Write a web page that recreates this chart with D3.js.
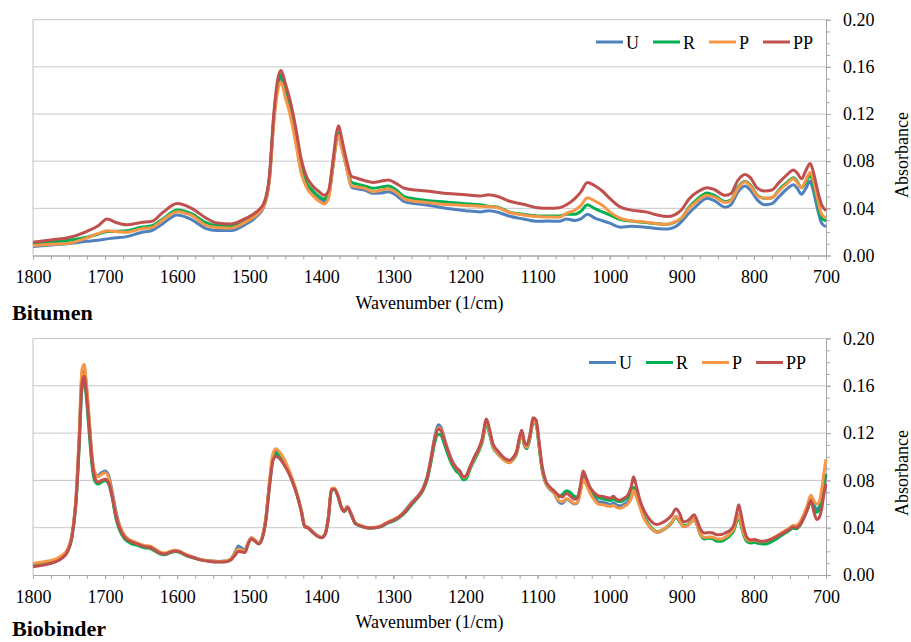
<!DOCTYPE html>
<html>
<head>
<meta charset="utf-8">
<script src="https://cdn.jsdelivr.net/npm/d3@7"></script>
<style>
	body { margin: 0; background: #fff; }
	svg text { font-family: "Liberation Serif", "Times New Roman", serif; fill: #000; }
</style>
</head>
<body>
<svg id="chart" width="911" height="642"></svg>
<script>
const seriesNames = ['U', 'R', 'P', 'PP'];
const seriesColors = ['#4f81bd', '#00b050', '#f79646', '#c0504d'];
const xMajorTicks = [1800, 1700, 1600, 1500, 1400, 1300, 1200, 1100, 1000, 900, 800, 700];
const yMajorTicks = [0, 0.04, 0.08, 0.12, 0.16, 0.20];

// Bitumen spectra
const bitumenWave = [1800, 1775, 1750, 1725, 1710, 1697, 1685, 1670, 1650, 1635, 1620, 1600, 1580, 1560, 1545, 1525, 1505, 1490, 1480, 1472, 1466, 1460, 1456, 1450, 1444, 1436, 1428, 1420, 1412, 1404, 1396, 1390, 1384, 1379, 1376, 1372, 1366, 1358, 1350, 1340, 1328, 1318, 1307, 1296, 1285, 1270, 1250, 1225, 1200, 1180, 1168, 1155, 1140, 1120, 1100, 1085, 1070, 1060, 1048, 1040, 1031, 1020, 1010, 1000, 985, 970, 950, 935, 920, 910, 900, 890, 878, 865, 855, 840, 832, 822, 812, 805, 795, 785, 775, 765, 755, 745, 740, 734, 728, 722, 718, 712, 706, 700];
const bitumenU = [0.0076, 0.0089, 0.0102, 0.0120, 0.0130, 0.0141, 0.0150, 0.0160, 0.0195, 0.0212, 0.0270, 0.0344, 0.0305, 0.0228, 0.0212, 0.0212, 0.0265, 0.0330, 0.0410, 0.0650, 0.115, 0.145, 0.151, 0.138, 0.125, 0.100, 0.072, 0.058, 0.052, 0.048, 0.0457, 0.050, 0.075, 0.097, 0.102, 0.092, 0.077, 0.058, 0.0565, 0.0555, 0.0527, 0.053, 0.054, 0.051, 0.0457, 0.0440, 0.0425, 0.0398, 0.0380, 0.0370, 0.0380, 0.0367, 0.0335, 0.0310, 0.0290, 0.0292, 0.0290, 0.0310, 0.0296, 0.0310, 0.0350, 0.0315, 0.0295, 0.0274, 0.0240, 0.0248, 0.0240, 0.0230, 0.0225, 0.0240, 0.0290, 0.0360, 0.0430, 0.0485, 0.0465, 0.0410, 0.0430, 0.0540, 0.0590, 0.0555, 0.0470, 0.0430, 0.0440, 0.0500, 0.0560, 0.0600, 0.0570, 0.0520, 0.0570, 0.0630, 0.0560, 0.0400, 0.0274, 0.0245];
const bitumenR = [0.0096, 0.0113, 0.0130, 0.0155, 0.0180, 0.0203, 0.0205, 0.0210, 0.0240, 0.0252, 0.0310, 0.0386, 0.0355, 0.0278, 0.0254, 0.0250, 0.0295, 0.0355, 0.0420, 0.0660, 0.117, 0.147, 0.153, 0.140, 0.127, 0.103, 0.075, 0.061, 0.055, 0.0505, 0.0480, 0.052, 0.077, 0.099, 0.104, 0.094, 0.079, 0.062, 0.0605, 0.0590, 0.0570, 0.0580, 0.0590, 0.0555, 0.0500, 0.0480, 0.0465, 0.0452, 0.0440, 0.0430, 0.0418, 0.0410, 0.0370, 0.0350, 0.0335, 0.0335, 0.0336, 0.0350, 0.0350, 0.0375, 0.0430, 0.0395, 0.0370, 0.0344, 0.0305, 0.0292, 0.0280, 0.0270, 0.0265, 0.0280, 0.0320, 0.0410, 0.0480, 0.0530, 0.0510, 0.0457, 0.0470, 0.0580, 0.0630, 0.0600, 0.0510, 0.0485, 0.0490, 0.0560, 0.0615, 0.0660, 0.0630, 0.0575, 0.0620, 0.0680, 0.0620, 0.0460, 0.0316, 0.0295];
const bitumenP = [0.0085, 0.0095, 0.0104, 0.0150, 0.0185, 0.0210, 0.0203, 0.0197, 0.0226, 0.0237, 0.0300, 0.0372, 0.0340, 0.0256, 0.0237, 0.0232, 0.0285, 0.0345, 0.0415, 0.0640, 0.112, 0.141, 0.147, 0.134, 0.121, 0.097, 0.070, 0.057, 0.051, 0.0465, 0.0437, 0.049, 0.075, 0.097, 0.102, 0.092, 0.077, 0.059, 0.0580, 0.0570, 0.0540, 0.0555, 0.0564, 0.0535, 0.0480, 0.0460, 0.0448, 0.0432, 0.0425, 0.0417, 0.0415, 0.0405, 0.0367, 0.0344, 0.0330, 0.0327, 0.0325, 0.0358, 0.0386, 0.0425, 0.0490, 0.0460, 0.0425, 0.0370, 0.0315, 0.0295, 0.0283, 0.0270, 0.0265, 0.0285, 0.0320, 0.0400, 0.0465, 0.0510, 0.0495, 0.0450, 0.0465, 0.0570, 0.0626, 0.0590, 0.0505, 0.0485, 0.0490, 0.0550, 0.0605, 0.0650, 0.0620, 0.0575, 0.0640, 0.0705, 0.0650, 0.0490, 0.0350, 0.0320];
const bitumenPP = [0.0113, 0.0132, 0.0152, 0.0205, 0.0250, 0.0310, 0.0280, 0.0260, 0.0280, 0.0290, 0.0365, 0.0440, 0.0400, 0.0318, 0.0276, 0.0268, 0.0315, 0.0370, 0.0440, 0.0680, 0.120, 0.151, 0.157, 0.146, 0.133, 0.110, 0.082, 0.066, 0.059, 0.0545, 0.0510, 0.055, 0.080, 0.104, 0.110, 0.100, 0.083, 0.067, 0.0655, 0.0635, 0.0620, 0.0630, 0.0640, 0.0610, 0.0570, 0.0555, 0.0545, 0.0525, 0.0515, 0.0505, 0.0515, 0.0500, 0.0462, 0.0435, 0.0405, 0.0400, 0.0405, 0.0430, 0.0485, 0.0540, 0.0620, 0.0590, 0.0545, 0.0485, 0.0410, 0.0385, 0.0370, 0.0345, 0.0330, 0.0345, 0.0390, 0.0480, 0.0540, 0.0575, 0.0560, 0.0510, 0.0525, 0.0640, 0.0688, 0.0660, 0.0570, 0.0547, 0.0556, 0.0620, 0.0680, 0.0725, 0.0700, 0.0650, 0.0720, 0.0780, 0.0720, 0.0560, 0.0430, 0.0380];

// Biobinder spectra
const biobinderWave = [1800, 1785, 1770, 1760, 1752, 1746, 1740, 1736, 1732, 1729, 1726, 1722, 1718, 1714, 1710, 1705, 1700, 1695, 1690, 1685, 1680, 1673, 1665, 1655, 1645, 1638, 1632, 1624, 1617, 1610, 1603, 1596, 1588, 1578, 1568, 1555, 1542, 1532, 1525, 1520, 1515, 1510, 1506, 1501, 1497, 1492, 1487, 1482, 1477, 1472, 1467, 1463, 1458, 1452, 1446, 1440, 1434, 1428, 1423, 1418, 1412, 1405, 1400, 1395, 1390, 1386, 1382, 1377, 1372, 1368, 1364, 1359, 1353, 1345, 1335, 1325, 1317, 1308, 1298, 1290, 1282, 1274, 1266, 1259, 1253, 1248, 1243, 1238, 1234, 1229, 1224, 1218, 1213, 1208, 1203, 1199, 1194, 1188, 1182, 1177, 1171, 1167, 1162, 1156, 1150, 1144, 1139, 1134, 1129, 1125, 1122, 1118, 1115, 1111, 1106, 1102, 1098, 1094, 1089, 1083, 1077, 1071, 1066, 1060, 1055, 1049, 1045, 1040, 1037, 1033, 1028, 1022, 1016, 1010, 1004, 999, 995, 990, 985, 980, 975, 970, 967, 963, 958, 952, 946, 940, 934, 928, 921, 914, 908, 903, 898, 893, 888, 883, 879, 874, 868, 862, 857, 851, 845, 839, 833, 828, 824, 821, 818, 814, 810, 804, 799, 794, 788, 782, 776, 770, 764, 758, 752, 746, 741, 736, 731, 726, 721, 717, 713, 710, 706, 703, 700];
const biobinderU = [0.0080, 0.0095, 0.0118, 0.0150, 0.0210, 0.0330, 0.0680, 0.1150, 0.1700, 0.1750, 0.1600, 0.1300, 0.0990, 0.0860, 0.0840, 0.0865, 0.0880, 0.0840, 0.0700, 0.0540, 0.0420, 0.0330, 0.0290, 0.0265, 0.0245, 0.0240, 0.0220, 0.0190, 0.0180, 0.0195, 0.0205, 0.0195, 0.0170, 0.0150, 0.0132, 0.0120, 0.0115, 0.0118, 0.0140, 0.0190, 0.0245, 0.0225, 0.0215, 0.0280, 0.0315, 0.0295, 0.0268, 0.0320, 0.0480, 0.0780, 0.1010, 0.1050, 0.1020, 0.0965, 0.0890, 0.0800, 0.0690, 0.0550, 0.0415, 0.0400, 0.0365, 0.0330, 0.0318, 0.0345, 0.0500, 0.0725, 0.0730, 0.0670, 0.0570, 0.0540, 0.0575, 0.0520, 0.0440, 0.0415, 0.0400, 0.0402, 0.0415, 0.0445, 0.0472, 0.0505, 0.0560, 0.0620, 0.0670, 0.0735, 0.0840, 0.0990, 0.1160, 0.1270, 0.1250, 0.1150, 0.1050, 0.0960, 0.0910, 0.0880, 0.0830, 0.0840, 0.0910, 0.0990, 0.1060, 0.1140, 0.1300, 0.1220, 0.1090, 0.1040, 0.1000, 0.0970, 0.0960, 0.0985, 0.1040, 0.1150, 0.1200, 0.1090, 0.1070, 0.1150, 0.1300, 0.1280, 0.1100, 0.0900, 0.0780, 0.0725, 0.0690, 0.0620, 0.0605, 0.0640, 0.0625, 0.0600, 0.0610, 0.0740, 0.0850, 0.0800, 0.0720, 0.0660, 0.0620, 0.0615, 0.0605, 0.0595, 0.0610, 0.0590, 0.0585, 0.0600, 0.0620, 0.0670, 0.0720, 0.0670, 0.0580, 0.0480, 0.0420, 0.0380, 0.0360, 0.0372, 0.0400, 0.0440, 0.0495, 0.0455, 0.0410, 0.0415, 0.0440, 0.0475, 0.0430, 0.0345, 0.0315, 0.0320, 0.0318, 0.0300, 0.0300, 0.0320, 0.0350, 0.0390, 0.0470, 0.0510, 0.0440, 0.0350, 0.0300, 0.0285, 0.0292, 0.0285, 0.0280, 0.0285, 0.0300, 0.0320, 0.0342, 0.0365, 0.0385, 0.0408, 0.0405, 0.0430, 0.0490, 0.0560, 0.0640, 0.0600, 0.0555, 0.0570, 0.0650, 0.0760, 0.0840];
const biobinderR = [0.0078, 0.0092, 0.0112, 0.0145, 0.0200, 0.0320, 0.0640, 0.1080, 0.1580, 0.1640, 0.1500, 0.1200, 0.0920, 0.0790, 0.0770, 0.0785, 0.0800, 0.0770, 0.0650, 0.0480, 0.0380, 0.0305, 0.0270, 0.0250, 0.0230, 0.0225, 0.0205, 0.0180, 0.0172, 0.0188, 0.0198, 0.0190, 0.0165, 0.0145, 0.0128, 0.0118, 0.0112, 0.0115, 0.0132, 0.0170, 0.0215, 0.0205, 0.0200, 0.0275, 0.0310, 0.0290, 0.0265, 0.0315, 0.0470, 0.0760, 0.0990, 0.1030, 0.1010, 0.0960, 0.0885, 0.0795, 0.0685, 0.0545, 0.0410, 0.0398, 0.0362, 0.0328, 0.0316, 0.0342, 0.0495, 0.0718, 0.0722, 0.0665, 0.0565, 0.0535, 0.0570, 0.0515, 0.0436, 0.0412, 0.0398, 0.0400, 0.0410, 0.0438, 0.0462, 0.0495, 0.0540, 0.0600, 0.0655, 0.0715, 0.0810, 0.0950, 0.1110, 0.1190, 0.1180, 0.1100, 0.1010, 0.0925, 0.0880, 0.0850, 0.0805, 0.0815, 0.0890, 0.0970, 0.1040, 0.1120, 0.1280, 0.1200, 0.1080, 0.1030, 0.0990, 0.0960, 0.0950, 0.0975, 0.1030, 0.1140, 0.1195, 0.1090, 0.1070, 0.1150, 0.1290, 0.1270, 0.1090, 0.0900, 0.0780, 0.0730, 0.0700, 0.0660, 0.0680, 0.0712, 0.0700, 0.0665, 0.0660, 0.0740, 0.0820, 0.0780, 0.0720, 0.0680, 0.0655, 0.0645, 0.0635, 0.0630, 0.0645, 0.0625, 0.0620, 0.0635, 0.0660, 0.0710, 0.0740, 0.0680, 0.0590, 0.0490, 0.0430, 0.0385, 0.0365, 0.0378, 0.0405, 0.0445, 0.0490, 0.0450, 0.0420, 0.0420, 0.0445, 0.0470, 0.0425, 0.0340, 0.0305, 0.0310, 0.0305, 0.0285, 0.0285, 0.0305, 0.0335, 0.0375, 0.0450, 0.0490, 0.0425, 0.0335, 0.0285, 0.0270, 0.0278, 0.0268, 0.0262, 0.0265, 0.0280, 0.0300, 0.0325, 0.0350, 0.0372, 0.0395, 0.0392, 0.0420, 0.0480, 0.0550, 0.0620, 0.0570, 0.0530, 0.0545, 0.0660, 0.0780, 0.0856];
const biobinderP = [0.0098, 0.0112, 0.0132, 0.0165, 0.0220, 0.0340, 0.0690, 0.1180, 0.1740, 0.1780, 0.1620, 0.1320, 0.1000, 0.0860, 0.0830, 0.0850, 0.0865, 0.0820, 0.0680, 0.0520, 0.0420, 0.0335, 0.0295, 0.0270, 0.0250, 0.0245, 0.0225, 0.0195, 0.0185, 0.0200, 0.0210, 0.0200, 0.0175, 0.0152, 0.0132, 0.0120, 0.0115, 0.0120, 0.0138, 0.0180, 0.0220, 0.0210, 0.0205, 0.0282, 0.0315, 0.0295, 0.0268, 0.0322, 0.0485, 0.0790, 0.1030, 0.1067, 0.1040, 0.0985, 0.0905, 0.0810, 0.0695, 0.0555, 0.0418, 0.0402, 0.0366, 0.0332, 0.0320, 0.0348, 0.0505, 0.0732, 0.0735, 0.0675, 0.0575, 0.0545, 0.0580, 0.0525, 0.0444, 0.0418, 0.0402, 0.0404, 0.0418, 0.0448, 0.0475, 0.0505, 0.0555, 0.0615, 0.0665, 0.0730, 0.0830, 0.0980, 0.1145, 0.1245, 0.1230, 0.1140, 0.1045, 0.0955, 0.0905, 0.0870, 0.0825, 0.0835, 0.0905, 0.0985, 0.1055, 0.1135, 0.1300, 0.1220, 0.1090, 0.1035, 0.0990, 0.0960, 0.0950, 0.0980, 0.1035, 0.1150, 0.1205, 0.1100, 0.1080, 0.1160, 0.1300, 0.1280, 0.1100, 0.0910, 0.0785, 0.0730, 0.0695, 0.0630, 0.0620, 0.0645, 0.0630, 0.0605, 0.0610, 0.0720, 0.0810, 0.0770, 0.0700, 0.0640, 0.0600, 0.0595, 0.0585, 0.0580, 0.0590, 0.0570, 0.0565, 0.0580, 0.0600, 0.0650, 0.0716, 0.0660, 0.0575, 0.0475, 0.0420, 0.0380, 0.0362, 0.0375, 0.0405, 0.0445, 0.0497, 0.0460, 0.0410, 0.0415, 0.0440, 0.0477, 0.0430, 0.0345, 0.0318, 0.0322, 0.0320, 0.0305, 0.0305, 0.0322, 0.0352, 0.0392, 0.0475, 0.0505, 0.0440, 0.0350, 0.0300, 0.0288, 0.0296, 0.0285, 0.0282, 0.0290, 0.0305, 0.0325, 0.0348, 0.0370, 0.0392, 0.0418, 0.0420, 0.0450, 0.0510, 0.0590, 0.0674, 0.0630, 0.0600, 0.0610, 0.0720, 0.0860, 0.0980];
const biobinderPP = [0.0070, 0.0085, 0.0108, 0.0140, 0.0200, 0.0320, 0.0650, 0.1100, 0.1620, 0.1680, 0.1540, 0.1250, 0.0960, 0.0820, 0.0785, 0.0800, 0.0810, 0.0780, 0.0660, 0.0500, 0.0400, 0.0320, 0.0285, 0.0260, 0.0240, 0.0235, 0.0215, 0.0185, 0.0178, 0.0192, 0.0202, 0.0195, 0.0168, 0.0148, 0.0128, 0.0115, 0.0110, 0.0112, 0.0130, 0.0165, 0.0198, 0.0195, 0.0190, 0.0270, 0.0305, 0.0285, 0.0262, 0.0310, 0.0460, 0.0740, 0.0970, 0.1005, 0.0985, 0.0935, 0.0870, 0.0785, 0.0680, 0.0540, 0.0408, 0.0396, 0.0360, 0.0326, 0.0315, 0.0340, 0.0495, 0.0720, 0.0725, 0.0668, 0.0568, 0.0538, 0.0572, 0.0518, 0.0438, 0.0413, 0.0398, 0.0400, 0.0412, 0.0442, 0.0468, 0.0500, 0.0548, 0.0610, 0.0660, 0.0725, 0.0825, 0.0975, 0.1140, 0.1235, 0.1220, 0.1130, 0.1040, 0.0950, 0.0905, 0.0875, 0.0830, 0.0840, 0.0910, 0.0995, 0.1065, 0.1150, 0.1320, 0.1240, 0.1110, 0.1055, 0.1010, 0.0980, 0.0970, 0.0995, 0.1050, 0.1170, 0.1225, 0.1120, 0.1100, 0.1180, 0.1330, 0.1310, 0.1130, 0.0930, 0.0800, 0.0745, 0.0710, 0.0675, 0.0660, 0.0690, 0.0670, 0.0640, 0.0650, 0.0780, 0.0880, 0.0830, 0.0750, 0.0700, 0.0670, 0.0665, 0.0655, 0.0650, 0.0665, 0.0640, 0.0635, 0.0650, 0.0675, 0.0750, 0.0830, 0.0750, 0.0630, 0.0540, 0.0480, 0.0440, 0.0428, 0.0440, 0.0465, 0.0505, 0.0560, 0.0520, 0.0450, 0.0455, 0.0480, 0.0510, 0.0465, 0.0385, 0.0355, 0.0360, 0.0355, 0.0340, 0.0342, 0.0358, 0.0380, 0.0420, 0.0520, 0.0595, 0.0520, 0.0400, 0.0320, 0.0295, 0.0300, 0.0290, 0.0285, 0.0290, 0.0302, 0.0320, 0.0340, 0.0360, 0.0382, 0.0405, 0.0400, 0.0425, 0.0480, 0.0550, 0.0630, 0.0540, 0.0470, 0.0480, 0.0560, 0.0680, 0.0770];

const panels = [
	{ title: 'Bitumen', wave: bitumenWave, values: [bitumenU, bitumenR, bitumenP, bitumenPP],
		top: 19.7, bottom: 255.5, titleY: 320, legendX: 596, legendY: 42, labelY: 155 },
	{ title: 'Biobinder', wave: biobinderWave, values: [biobinderU, biobinderR, biobinderP, biobinderPP],
		top: 338.5, bottom: 575, titleY: 636, legendX: 589, legendY: 362.5, labelY: 473 }
];

let svg = d3.select('#chart');
let left = 33, right = 826;

let x = d3.scaleLinear().domain([1800, 700]).range([left, right]);
let xMinor = d3.range(1800, 699, -25);
let yMinor = d3.range(0, 0.2001, 0.01);

function drawPanel(p) {
	let y = d3.scaleLinear().domain([0, 0.2]).range([p.bottom, p.top]);
	let g = svg.append('g');

	// gridlines
	g.selectAll('.grid').data(yMajorTicks.filter(d => d > 0)).enter()
		.append('line')
		.attr('x1', left).attr('x2', right)
		.attr('y1', d => y(d)).attr('y2', d => y(d))
		.attr('stroke', '#c8c8c8').attr('stroke-width', 1);

	// plot border (left edge)
	g.append('line')
		.attr('x1', left).attr('x2', left)
		.attr('y1', p.top).attr('y2', p.bottom)
		.attr('stroke', '#c0c0c0');

	// x axis: minor ticks then major labels
	let xAxisMinor = d3.axisBottom(x).tickValues(xMinor).tickSize(4).tickSizeOuter(0).tickFormat('');
	let gxm = g.append('g').attr('transform', `translate(0, ${p.bottom})`).call(xAxisMinor);
	let xAxis = d3.axisBottom(x).tickValues(xMajorTicks).tickSize(4).tickSizeOuter(0).tickPadding(11).tickFormat(d3.format('d'));
	let gx = g.append('g').attr('transform', `translate(0, ${p.bottom})`).call(xAxis);
	[gxm, gx].forEach(a => {
		a.selectAll('path, line').attr('stroke', '#a6a6a6');
		a.selectAll('text').style('font-size', '18px');
	});

	// right y axis
	let yAxisMinor = d3.axisRight(y).tickValues(yMinor).tickSize(4).tickSizeOuter(0).tickFormat('');
	let gym = g.append('g').attr('transform', `translate(${right}, 0)`).call(yAxisMinor);
	let yAxis = d3.axisRight(y).tickValues(yMajorTicks).tickSize(5).tickSizeOuter(0).tickPadding(12).tickFormat(d3.format('.2f'));
	let gy = g.append('g').attr('transform', `translate(${right}, 0)`).call(yAxis);
	[gym, gy].forEach(a => {
		a.selectAll('path, line').attr('stroke', '#a6a6a6');
		a.selectAll('text').style('font-size', '18px');
	});

	// spectra
	let line = d3.line()
		.x(d => x(d[0]))
		.y(d => y(d[1]))
		.curve(d3.curveMonotoneX);

	p.values.forEach((vals, i) => {
		g.append('path')
			.datum(p.wave.map((w, j) => [w, vals[j]]))
			.attr('fill', 'none')
			.attr('stroke', seriesColors[i])
			.attr('stroke-width', 3)
			.attr('stroke-linejoin', 'round')
			.attr('d', line);
	});

	// legend
	let lx = p.legendX;
	seriesNames.forEach((name, i) => {
		g.append('line')
			.attr('x1', lx).attr('x2', lx + 27)
			.attr('y1', p.legendY).attr('y2', p.legendY)
			.attr('stroke', seriesColors[i]).attr('stroke-width', 3);
		let t = g.append('text')
			.attr('x', lx + 30).attr('y', p.legendY + 6.5)
			.style('font-size', '18px')
			.text(name);
		lx += 30 + t.node().getComputedTextLength() + 14;
	});

	// axis titles
	g.append('text')
		.attr('x', (left + right) / 2).attr('y', p.bottom + 53)
		.attr('text-anchor', 'middle')
		.style('font-size', '18px')
		.text('Wavenumber (1/cm)');

	g.append('text')
		.attr('transform', `translate(908, ${p.labelY}) rotate(-90)`)
		.attr('text-anchor', 'middle')
		.style('font-size', '18px')
		.text('Absorbance');

	g.append('text')
		.attr('x', 12).attr('y', p.titleY)
		.style('font-size', '22px')
		.style('font-weight', 'bold')
		.text(p.title);
}

panels.forEach(drawPanel);
</script>
</body>
</html>
